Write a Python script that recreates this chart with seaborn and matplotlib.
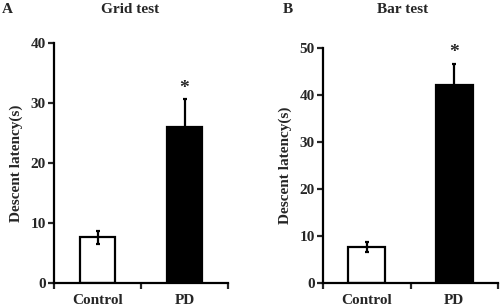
import matplotlib
matplotlib.use("Agg")
import matplotlib.pyplot as plt
import seaborn as sns

# ── Data ────────────────────────────────────────────────────────────────────
groups = ["Control", "PD"]
grid_means = [7.6, 26.0]
grid_err = [1.1, 4.7]
bar_means = [7.7, 42.2]
bar_err = [1.0, 4.5]

sns.set_theme(style="ticks")
plt.rcParams["font.family"] = ["Liberation Serif", "DejaVu Serif"]
plt.rcParams["font.weight"] = "bold"

fig = plt.figure(figsize=(5, 3.06), dpi=100)
ax_a = fig.add_axes([0.108, 0.075, 0.348, 0.784])
ax_b = fig.add_axes([0.646, 0.075, 0.350, 0.768])


def panel(ax, means, err, ymax, step, width):
    sns.barplot(x=groups, y=means, hue=groups, palette=["white", "black"],
                edgecolor="black", linewidth=1.6, width=width, legend=False,
                ax=ax)
    ax.errorbar(range(len(means)), means, yerr=err, fmt="none",
                ecolor="black", elinewidth=1.6, capsize=1.5, capthick=1.6,
                zorder=5)
    ax.set_xlim(-0.5, 1.5)
    ax.set_ylim(0, ymax)
    ax.set_yticks(range(0, ymax + 1, step))
    ax.set_xticks([-0.5, 0.5, 1.5])
    ax.set_xticklabels([])
    ax.set_xticks([0, 1], minor=True)
    ax.set_xticklabels(groups, minor=True, fontsize=11, fontweight="bold")
    ax.tick_params(axis="x", which="minor", length=0, pad=8)
    ax.tick_params(axis="x", which="major", length=4, width=1.6, direction="out")
    ax.tick_params(axis="y", length=4, width=1.6, direction="out", pad=2,
                   labelsize=11)
    for lab in ax.get_yticklabels():
        lab.set_fontweight("bold")
    ax.set_ylabel("Descent latency(s)", fontsize=11, fontweight="bold",
                  labelpad=5)
    ax.set_xlabel("")
    sns.despine(ax=ax)
    for s in ["left", "bottom"]:
        ax.spines[s].set_linewidth(1.6)
        ax.spines[s].set_color("black")
    # significance marker above the PD error bar
    ax.text(1, means[1] + err[1] + ymax * 0.045, "*", ha="center",
            va="center", fontsize=14, fontweight="bold")


panel(ax_a, grid_means, grid_err, 40, 10, 0.41)
panel(ax_b, bar_means, bar_err, 50, 10, 0.42)

fig.text(0.004, 0.97, "A", fontsize=11, fontweight="bold", va="center")
fig.text(0.26, 0.97, "Grid test", fontsize=11, fontweight="bold",
         ha="center", va="center")
fig.text(0.566, 0.97, "B", fontsize=11, fontweight="bold", va="center")
fig.text(0.806, 0.97, "Bar test", fontsize=11, fontweight="bold",
         ha="center", va="center")

fig.savefig("out.png", dpi=100)
